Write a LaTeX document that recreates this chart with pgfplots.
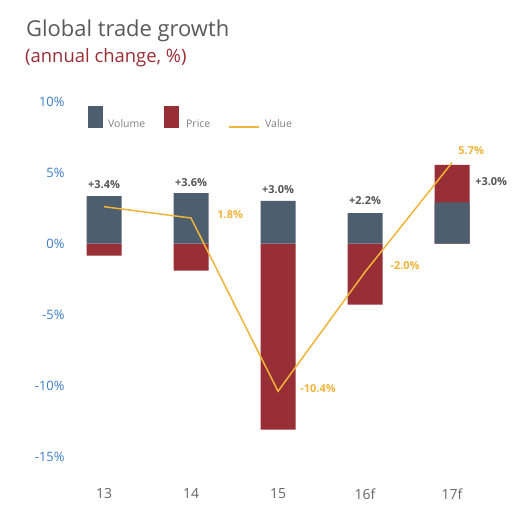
\documentclass[border=0pt]{standalone}
\usepackage{fontspec}
\setmainfont{Open Sans}
\usepackage{pgfplots}
\pgfplotsset{compat=1.18}
\definecolor{volc}{HTML}{4D5F6E}
\definecolor{pricec}{HTML}{992F36}
\definecolor{valc}{HTML}{F0B43A}
\definecolor{yblue}{HTML}{3C7EC8}
\definecolor{xgrey}{HTML}{666666}
\definecolor{titlegrey}{HTML}{595959}
\definecolor{subred}{HTML}{9B2D35}
\definecolor{lbl}{HTML}{555555}
\definecolor{leggrey}{HTML}{808080}
\begin{document}
\begin{tikzpicture}
\path[use as bounding box, fill=white] (0,0) rectangle (525bp,518bp);
\node[anchor=base west, inner sep=0, text=titlegrey, font=\fontsize{22}{25}\selectfont] at (26bp,481bp) {Global trade growth};
\node[anchor=base west, inner sep=0, text=subred, font=\fontsize{18.5}{21}\selectfont] at (25bp,455bp) {(annual change, \%)};
% legend
\fill[volc] (88bp,390bp) rectangle (103bp,412bp);
\node[anchor=base west, inner sep=0, text=leggrey, font=\fontsize{10.5}{12}\selectfont] at (108bp,390bp) {Volume};
\fill[pricec] (164bp,390bp) rectangle (179bp,412bp);
\node[anchor=base west, inner sep=0, text=leggrey, font=\fontsize{10.5}{12}\selectfont] at (186bp,390bp) {Price};
\draw[valc, line width=1.3bp] (229bp,391bp) -- (259bp,391bp);
\node[anchor=base west, inner sep=0, text=leggrey, font=\fontsize{10.5}{12}\selectfont] at (265bp,390bp) {Value};
\begin{axis}[
 at={(68bp,33bp)}, anchor=south west, scale only axis,
 width=451.9bp, height=397.6bp,
 xmin=-0.414, xmax=4.78, ymin=-17, ymax=11,
 axis line style={draw=none}, major tick length=0,
 xtick={0,1,2,3,4}, xticklabels={13,14,15,16f,17f},
 ytick={-15,-10,-5,0,5,10}, yticklabels={-15\%,-10\%,-5\%,0\%,5\%,10\%},
 xticklabel style={text=xgrey, font=\fontsize{14}{16}\selectfont},
 yticklabel style={text=yblue, font=\fontsize{13}{15}\selectfont},
 clip=false,
]
\addplot[ybar, bar width=35bp, bar shift=0pt, fill=pricec, draw=none]
 coordinates {(0,-0.85) (1,-1.9) (2,-13.1) (3,-4.3) (4,5.55)};
\addplot[ybar, bar width=35bp, bar shift=0pt, fill=volc, draw=none]
 coordinates {(0,3.35) (1,3.55) (2,3.0) (3,2.15) (4,2.9)};
\addplot[valc, line width=1.5bp, mark=none]
 coordinates {(0,2.6) (1,1.8) (2,-10.4) (3,-2.0) (4,5.7)};
\begin{scope}[every node/.style={font=\fontsize{11}{13}\selectfont\bfseries, inner sep=0}]
\node[text=lbl] at (axis cs:0,4.15) {+3.4\%};
\node[text=lbl] at (axis cs:1,4.3) {+3.6\%};
\node[text=lbl] at (axis cs:2,3.8) {+3.0\%};
\node[text=lbl] at (axis cs:3,3.0) {+2.2\%};
\node[text=lbl] at (axis cs:4.45,4.37) {+3.0\%};
\node[text=valc] at (axis cs:1.45,2.04) {1.8\%};
\node[text=valc] at (axis cs:2.46,-10.2) {-10.4\%};
\node[text=valc] at (axis cs:3.46,-1.55) {-2.0\%};
\node[text=valc] at (axis cs:4.22,6.55) {5.7\%};
\end{scope}
\end{axis}
\end{tikzpicture}
\end{document}
